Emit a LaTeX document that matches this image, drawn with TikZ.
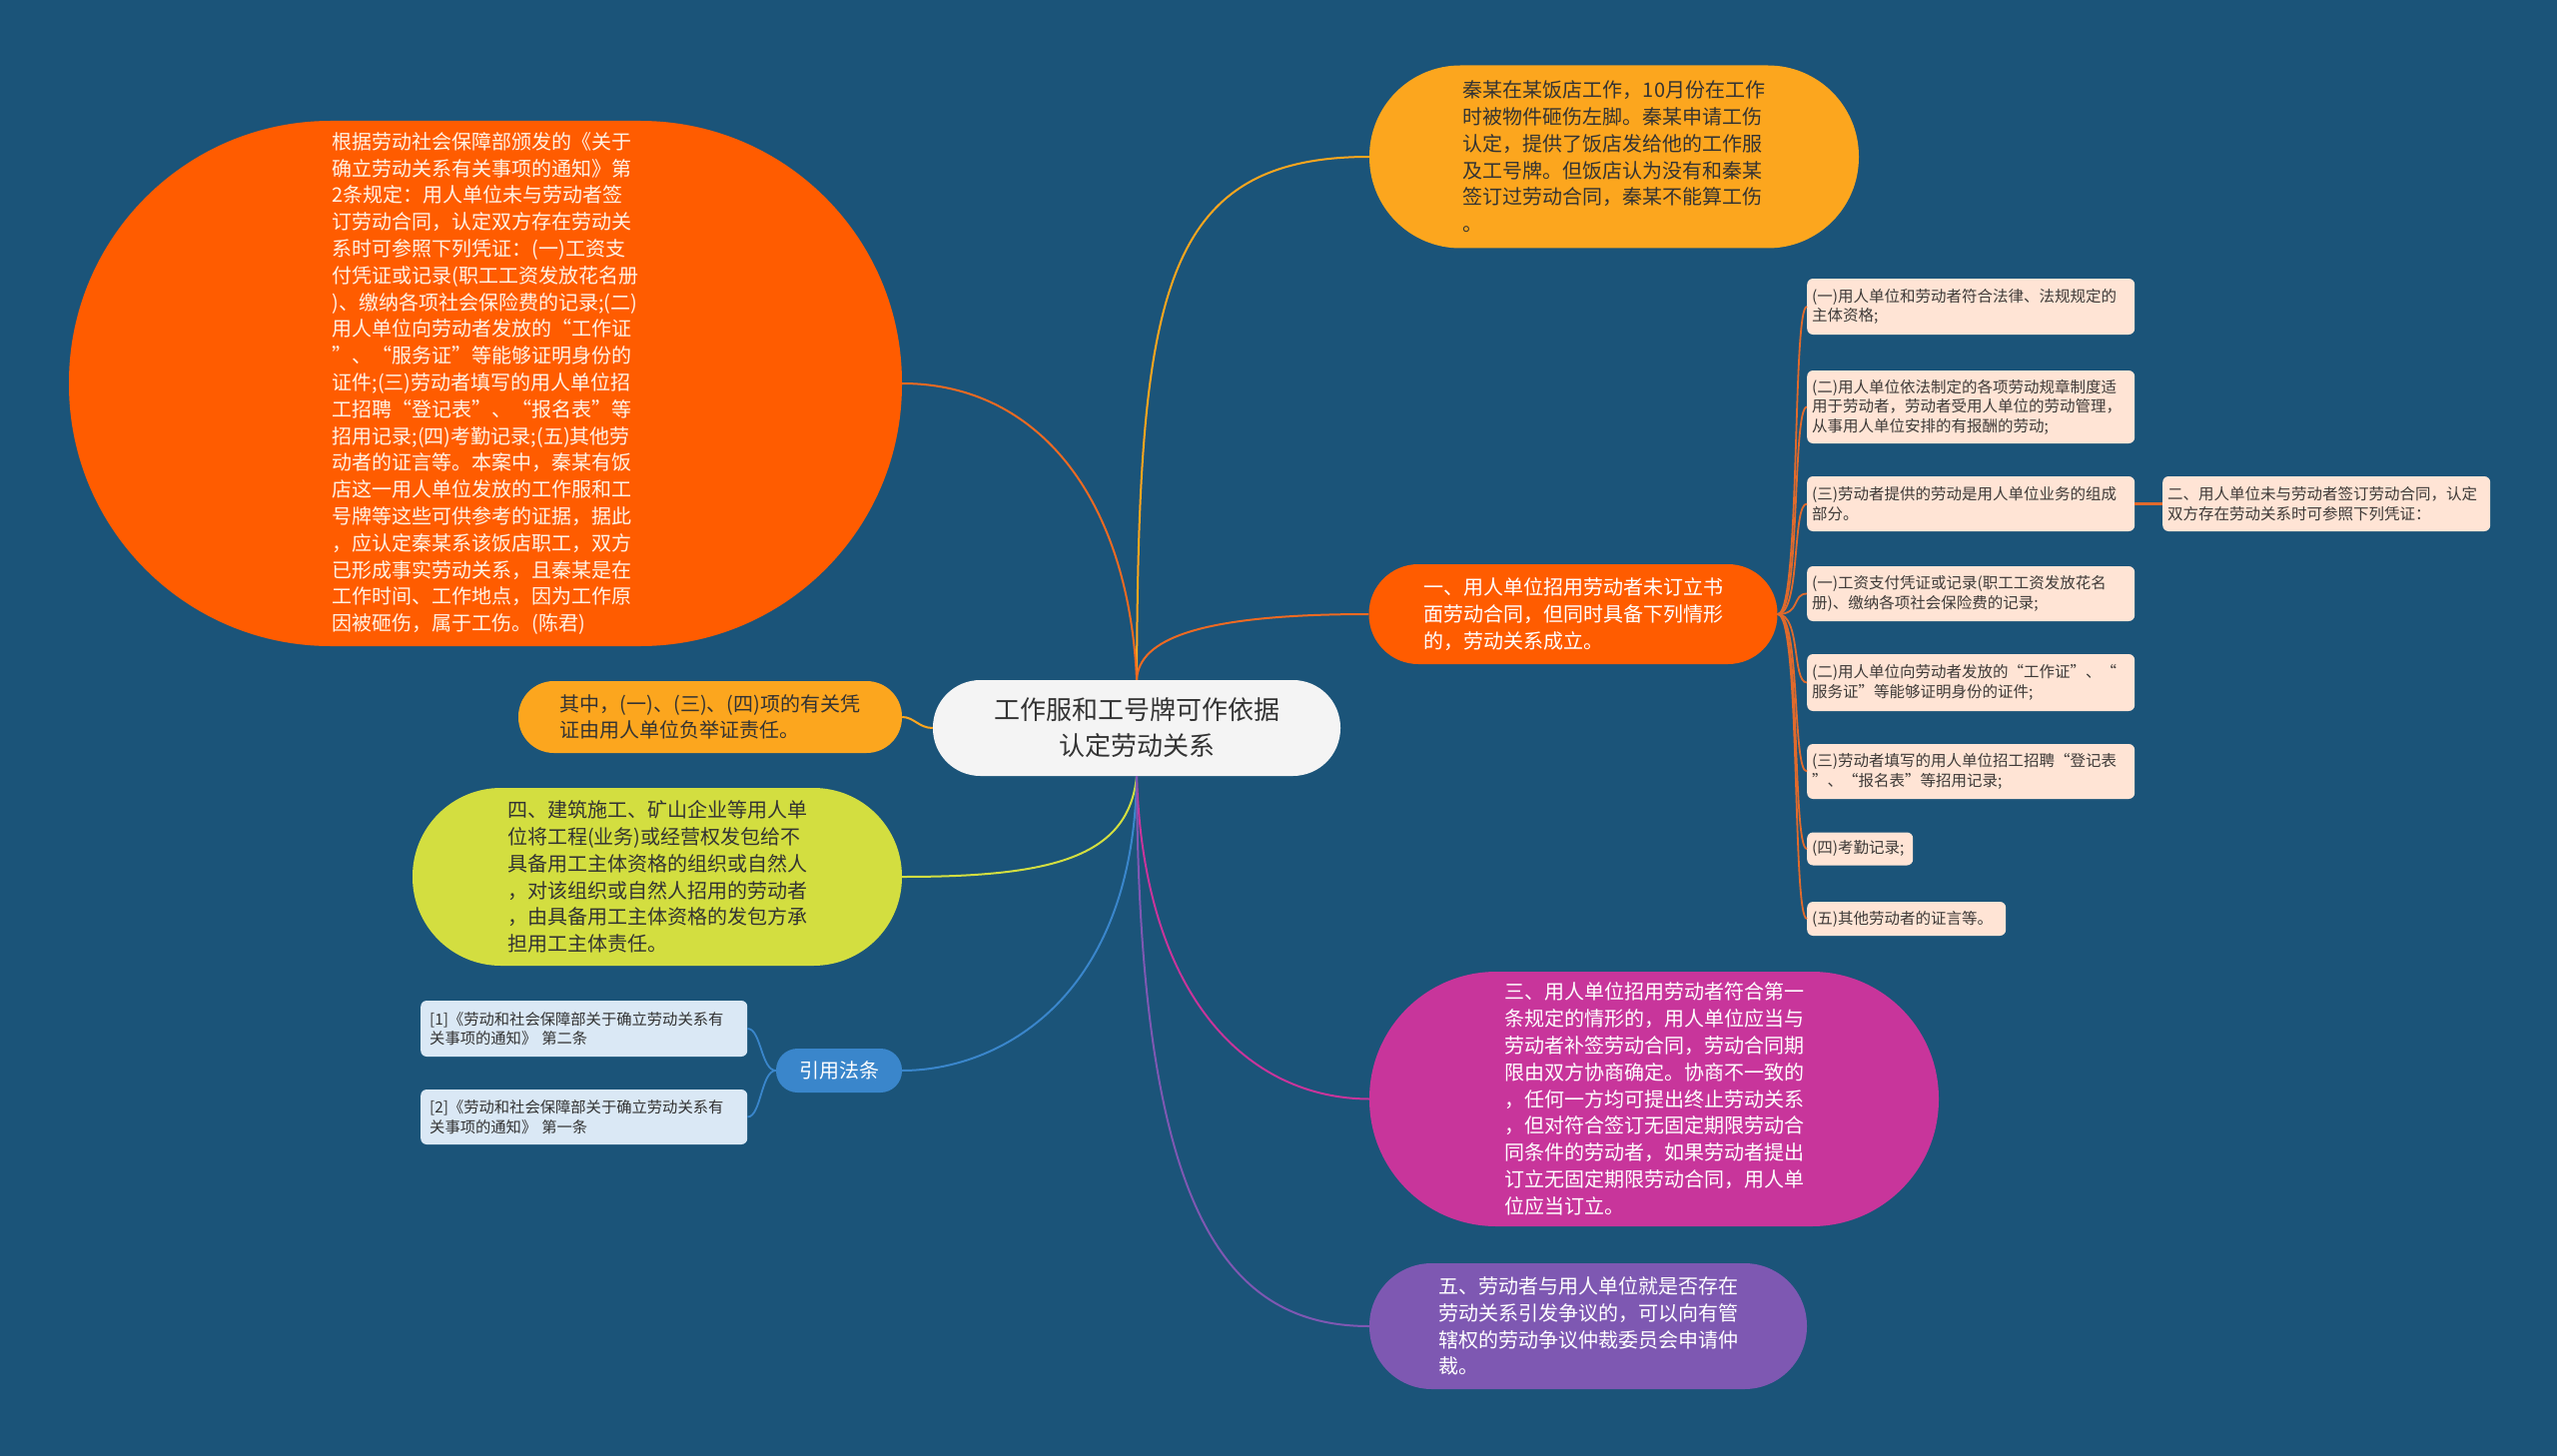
\documentclass[tikz,border=0pt]{standalone}
\usepackage{fontspec}
\setmainfont{Noto Sans CJK SC}
\definecolor{bg}{HTML}{1B5479}
\definecolor{centerfill}{HTML}{F4F4F4}
\definecolor{darktext}{HTML}{333333}
\definecolor{bigorange}{HTML}{FF5C00}
\definecolor{creamtext}{HTML}{FFF2E4}
\definecolor{amber}{HTML}{FCA61E}
\definecolor{orangeline}{HTML}{EE6A22}
\definecolor{itemfill}{HTML}{FFE4D5}
\definecolor{itemtext}{HTML}{3E3A38}
\definecolor{itemline}{HTML}{E06A2C}
\definecolor{lime}{HTML}{D3DE40}
\definecolor{blue}{HTML}{3A86CB}
\definecolor{reffill}{HTML}{DAE8F5}
\definecolor{magenta}{HTML}{C8359B}
\definecolor{purple}{HTML}{7E58B2}
\begin{document}
\begin{tikzpicture}[x=1pt,y=-1pt]
\tikzset{
  bubble/.style={rectangle, inner sep=0pt, align=left, draw=none},
  bodytext/.style={font=\fontsize{20}{26.8}\selectfont},
  itembox/.style={rectangle, rounded corners=6pt, fill=itemfill, text=itemtext,
    font=\fontsize{15.5}{19.5}\selectfont, align=left, inner xsep=5pt, inner ysep=0pt, anchor=west},
  refbox/.style={itembox, fill=reffill, text=darktext, font=\fontsize{15.3}{19.5}\selectfont, inner xsep=9pt},
  link/.style={line width=2pt},
}
\useasboundingbox (0,0) rectangle (2560,1458);
\fill[bg] (0,0) rectangle (2560,1458);

% central topic
\node[bubble, align=center, fill=centerfill, text=darktext, minimum width=408pt, minimum height=96pt,
  rounded corners=47.5pt, font=\fontsize{26}{36}\selectfont] (center) at (1138,729)
  {工作服和工号牌可作依据\\认定劳动关系};

% big orange
\node[bubble, bodytext, fill=bigorange, text=creamtext, minimum width=834pt, minimum height=526pt,
  rounded corners=262pt] (big) at (486,384)
  {根据劳动社会保障部颁发的《关于\\确立劳动关系有关事项的通知》第\\2条规定：用人单位未与劳动者签\\订劳动合同，认定双方存在劳动关\\系时可参照下列凭证：(一)工资支\\付凭证或记录(职工工资发放花名册\\)、缴纳各项社会保险费的记录;(二)\\用人单位向劳动者发放的“工作证\\”、“服务证”等能够证明身份的\\证件;(三)劳动者填写的用人单位招\\工招聘“登记表”、“报名表”等\\招用记录;(四)考勤记录;(五)其他劳\\动者的证言等。本案中，秦某有饭\\店这一用人单位发放的工作服和工\\号牌等这些可供参考的证据，据此\\，应认定秦某系该饭店职工，双方\\已形成事实劳动关系，且秦某是在\\工作时间、工作地点，因为工作原\\因被砸伤，属于工伤。(陈君)};

% amber top right
\node[bubble, bodytext, fill=amber, text=darktext, minimum width=490pt, minimum height=183pt,
  rounded corners=91pt] (case) at (1616,157)
  {秦某在某饭店工作，10月份在工作\\时被物件砸伤左脚。秦某申请工伤\\认定，提供了饭店发给他的工作服\\及工号牌。但饭店认为没有和秦某\\签订过劳动合同，秦某不能算工伤\\。};

% one
\node[bubble, bodytext, fill=bigorange, text=white, minimum width=409pt, minimum height=100pt,
  rounded corners=49.5pt] (one) at (1575,615)
  {一、用人单位招用劳动者未订立书\\面劳动合同，但同时具备下列情形\\的，劳动关系成立。};

% items
\node[itembox, text width=318pt, minimum height=56pt] (i1) at (1809,307)
  {(一)用人单位和劳动者符合法律、法规规定的\\主体资格;};
\node[itembox, text width=318pt, minimum height=73pt] (i2) at (1809,407.5)
  {(二)用人单位依法制定的各项劳动规章制度适\\用于劳动者，劳动者受用人单位的劳动管理，\\从事用人单位安排的有报酬的劳动;};
\node[itembox, text width=318pt, minimum height=55pt] (i3) at (1809,504.5)
  {(三)劳动者提供的劳动是用人单位业务的组成\\部分。};
\node[itembox, text width=318pt, minimum height=55pt] (i4) at (1809,594.5)
  {(一)工资支付凭证或记录(职工工资发放花名\\册)、缴纳各项社会保险费的记录;};
\node[itembox, text width=318pt, minimum height=57pt] (i5) at (1809,683.5)
  {(二)用人单位向劳动者发放的“工作证”、“\\服务证”等能够证明身份的证件;};
\node[itembox, text width=318pt, minimum height=55pt] (i6) at (1809,772.5)
  {(三)劳动者填写的用人单位招工招聘“登记表\\”、“报名表”等招用记录;};
\node[itembox, text width=96pt, minimum height=33pt] (i7) at (1809,850)
  {(四)考勤记录;};
\node[itembox, text width=189pt, minimum height=34pt] (i8) at (1809,920)
  {(五)其他劳动者的证言等。};
\node[itembox, text width=318pt, minimum height=55pt] (two) at (2165,504.5)
  {二、用人单位未与劳动者签订劳动合同，认定\\双方存在劳动关系时可参照下列凭证：};

% left nodes
\node[bubble, bodytext, fill=amber, text=darktext, minimum width=384pt, minimum height=72pt,
  rounded corners=35.5pt] (qz) at (711,718)
  {其中，(一)、(三)、(四)项的有关凭\\证由用人单位负举证责任。};
\node[bubble, bodytext, fill=lime, text=darktext, minimum width=490pt, minimum height=178pt,
  rounded corners=88.5pt] (four) at (658,878)
  {四、建筑施工、矿山企业等用人单\\位将工程(业务)或经营权发包给不\\具备用工主体资格的组织或自然人\\，对该组织或自然人招用的劳动者\\，由具备用工主体资格的发包方承\\担用工主体责任。};
\node[bubble, align=center, fill=blue, text=white, minimum width=126pt, minimum height=44pt,
  rounded corners=21.5pt, font=\fontsize{20}{26}\selectfont] (law) at (840,1072) {引用法条};
\node[refbox, text width=309pt, minimum height=56pt] (r1) at (421,1030)
  {[1]《劳动和社会保障部关于确立劳动关系有\\关事项的通知》 第二条};
\node[refbox, text width=309pt, minimum height=55pt] (r2) at (421,1118.5)
  {[2]《劳动和社会保障部关于确立劳动关系有\\关事项的通知》 第一条};

% bottom right nodes
\node[bubble, bodytext, fill=magenta, text=white, minimum width=570pt, minimum height=255pt,
  rounded corners=127pt] (three) at (1656,1100.5)
  {三、用人单位招用劳动者符合第一\\条规定的情形的，用人单位应当与\\劳动者补签劳动合同，劳动合同期\\限由双方协商确定。协商不一致的\\，任何一方均可提出终止劳动关系\\，但对符合签订无固定期限劳动合\\同条件的劳动者，如果劳动者提出\\订立无固定期限劳动合同，用人单\\位应当订立。};
\node[bubble, bodytext, fill=purple, text=white, minimum width=438pt, minimum height=126pt,
  rounded corners=62.5pt] (five) at (1590,1328)
  {五、劳动者与用人单位就是否存在\\劳动关系引发争议的，可以向有管\\辖权的劳动争议仲裁委员会申请仲\\裁。};

% connectors from center
\draw[link, amber] (center.north) .. controls (1140,300) and (1160,157) .. (case.west);
\draw[link, orangeline] (center.north) .. controls (1140,640) and (1200,615) .. (one.west);
\draw[link, orangeline] (center.north) .. controls (1130,500) and (1040,384) .. (big.east);
\draw[link, amber] (center.west) .. controls (920,729) and (915,718) .. (qz.east);
\draw[link, lime] (center.south) .. controls (1130,860) and (1050,878) .. (four.east);
\draw[link, blue] (center.south) .. controls (1135,1000) and (1000,1072) .. (law.east);
\draw[link, magenta] (center.south) .. controls (1145,1000) and (1250,1100) .. (three.west);
\draw[link, purple] (center.south) .. controls (1140,1200) and (1220,1328) .. (five.west);

% item connectors
\foreach \n in {i1,i2,i3,i4,i5,i6,i7,i8}{
  \draw[itemline, line width=1.8pt] (one.east) .. controls (1803,615) and (1794,0 |- \n.west) .. (\n.west);
}
\draw[itemline, line width=2.5pt] (i3.east) -- (two.west);

% reference connectors
\draw[blue, line width=1.8pt] (law.west) .. controls (762,1072) and (762,1030) .. (r1.east);
\draw[blue, line width=1.8pt] (law.west) .. controls (762,1072) and (762,1118.5) .. (r2.east);
\end{tikzpicture}
\end{document}
